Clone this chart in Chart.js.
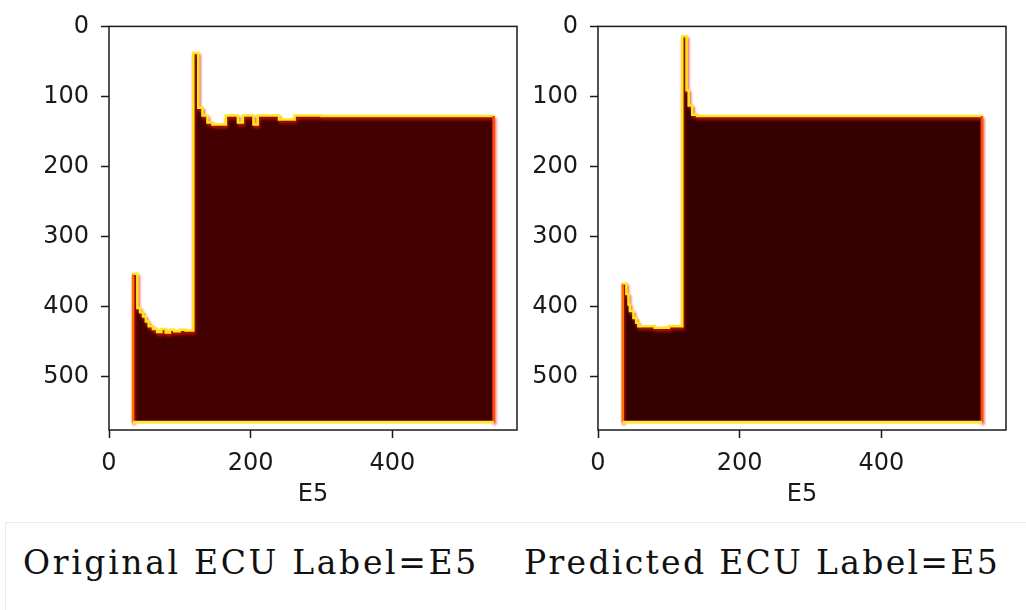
<!DOCTYPE html>
<html>
<head>
<meta charset="utf-8">
<script src="https://cdn.jsdelivr.net/npm/chart.js@4.4.1/dist/chart.umd.min.js"></script>
<style>
  html, body { margin: 0; padding: 0; background: #fff; }
  body { width: 1026px; height: 610px; position: relative; overflow: hidden; }
  canvas { position: absolute; top: 0; }
  #c1 { left: 0; }
  #c2 { left: 489px; }
  #caption { position: absolute; left: 5px; top: 522px; width: 1021px; height: 88px;
    border-top: 1px solid #ececec; border-left: 1px solid #ececec; box-sizing: border-box; }
  .lab { position: absolute; top: 22px; font-family: "DejaVu Serif", "Liberation Serif", serif;
    font-size: 33px; line-height: 36px; color: #111; white-space: pre; }
</style>
</head>
<body>
<canvas id="c1" width="522" height="512"></canvas>
<canvas id="c2" width="522" height="512"></canvas>
<div id="caption">
  <span class="lab" id="lab1" style="left:17px">Original ECU Label=E5</span>
  <span class="lab" id="lab2" style="left:518px">Predicted ECU Label=E5</span>
</div>
<script>
// ---- data (image rows/columns) ----
const xTickValues = [0, 200, 400];
const yTickValues = [0, 100, 200, 300, 400, 500];
const axisMax = 576;
const xAxisTitle = 'E5';

// Original: column start positions and top row of the filled region
const origCols = [34, 34, 40, 44, 48, 52, 56, 62, 68, 74, 80, 86, 92, 100, 108, 119, 126, 132, 139, 146, 165, 182, 189, 204, 210, 240, 262, 300, 543, 543];
const origTop  = [565, 353, 402, 408, 414, 421, 428, 432, 436, 432, 437, 433, 435, 433, 434, 38, 116, 127, 137, 140, 127, 137, 127, 140, 127, 133, 127, 128, 128, 565];

// Predicted
const predCols = [35, 35, 40, 43, 45, 50, 54, 57, 80, 100, 119, 125, 128, 133, 140, 200, 300, 400, 542, 542];
const predTop  = [565, 367, 382, 397, 406, 416, 423, 428, 430, 428, 14, 91, 113, 126, 128, 128, 128, 128, 128, 565];

const origFill = 'rgb(66,0,0)';
const predFill = 'rgb(52,0,0)';

// fit caption widths to the reference (monospace-like spacing)
[['lab1', 456], ['lab2', 476]].forEach(([id, target]) => {
  const el = document.getElementById(id);
  const n = el.textContent.length;
  const w = el.getBoundingClientRect().width;
  el.style.letterSpacing = ((target - w) / n) + 'px';
});

Chart.defaults.font.family = 'DejaVu Sans';
Chart.defaults.font.size = 24;
Chart.defaults.color = '#1a1a1a';

const framePlugin = {
  id: 'frame',
  afterDatasetsDraw(chart) {
    const a = chart.chartArea, ctx = chart.ctx;
    ctx.save();
    ctx.strokeStyle = '#1a1a1a';
    ctx.lineWidth = 1.5;
    ctx.strokeRect(a.left, a.top, a.right - a.left, a.bottom - a.top);
    ctx.restore();
  }
};
const glowPlugin = {
  id: 'glow',
  beforeDatasetDraw(chart, args) {
    if (args.index !== 1) return;
    const ctx = chart.ctx;
    ctx.save();
    ctx.shadowColor = 'rgba(225,25,0,0.9)';
    ctx.shadowBlur = 3;
    ctx.shadowOffsetX = 1;
    ctx.shadowOffsetY = 2.5;
  },
  afterDatasetDraw(chart, args) {
    if (args.index !== 1) return;
    chart.ctx.restore();
  }
};

function makeChart(id, cols, tops, fillColor) {
  const pts = cols.map((x, i) => ({ x: x, y: tops[i] }));
  const last = pts.length - 1;
  const bottomRow = tops[0];
  const bottom = [{ x: cols[0], y: bottomRow }, { x: cols[last], y: bottomRow }];
  const tickOpts = (vals) => ({
    afterBuildTicks: (s) => { s.ticks = vals.map(v => ({ value: v })); }
  });
  return new Chart(document.getElementById(id), {
    type: 'line',
    data: {
      datasets: [
        { data: bottom, borderColor: '#ffe834', borderWidth: 3, pointRadius: 0, fill: false },
        {
          data: pts, stepped: true, pointRadius: 0, borderWidth: 2.5,
          borderColor: '#ffe81a',
          backgroundColor: fillColor,
          fill: { value: bottomRow },
          segment: {
            borderColor: (c) => c.p0DataIndex === 0 ? '#ff7000' : (c.p1DataIndex === last ? '#ff4a00' : undefined)
          }
        }
      ]
    },
    options: {
      responsive: false, animation: false, devicePixelRatio: 1,
      layout: { padding: { top: 23, right: 5, left: 0, bottom: 0 } },
      plugins: { legend: { display: false }, tooltip: { enabled: false } },
      scales: {
        x: {
          type: 'linear', min: 0, max: axisMax,
          ...tickOpts(xTickValues),
          afterFit: (s) => { s.height = 82; },
          border: { display: false },
          grid: { display: true, drawOnChartArea: false, drawTicks: true, tickLength: 8, tickColor: '#1a1a1a', tickWidth: 1.5 },
          ticks: { padding: 11, maxRotation: 0, autoSkip: false, color: '#1a1a1a' },
          title: { display: true, text: xAxisTitle, color: '#1a1a1a', font: { size: 24 }, padding: { top: 4, bottom: 3 } }
        },
        y: {
          type: 'linear', min: 0, max: axisMax, reverse: true,
          ...tickOpts(yTickValues),
          afterFit: (s) => { s.width = 109; },
          border: { display: false },
          grid: { display: true, drawOnChartArea: false, drawTicks: true, tickLength: 8, tickColor: '#1a1a1a', tickWidth: 1.5 },
          ticks: { padding: 12, autoSkip: false, color: '#1a1a1a' }
        }
      }
    },
    plugins: [glowPlugin, framePlugin]
  });
}

makeChart('c1', origCols, origTop, origFill);
makeChart('c2', predCols, predTop, predFill);
</script>
</body>
</html>
